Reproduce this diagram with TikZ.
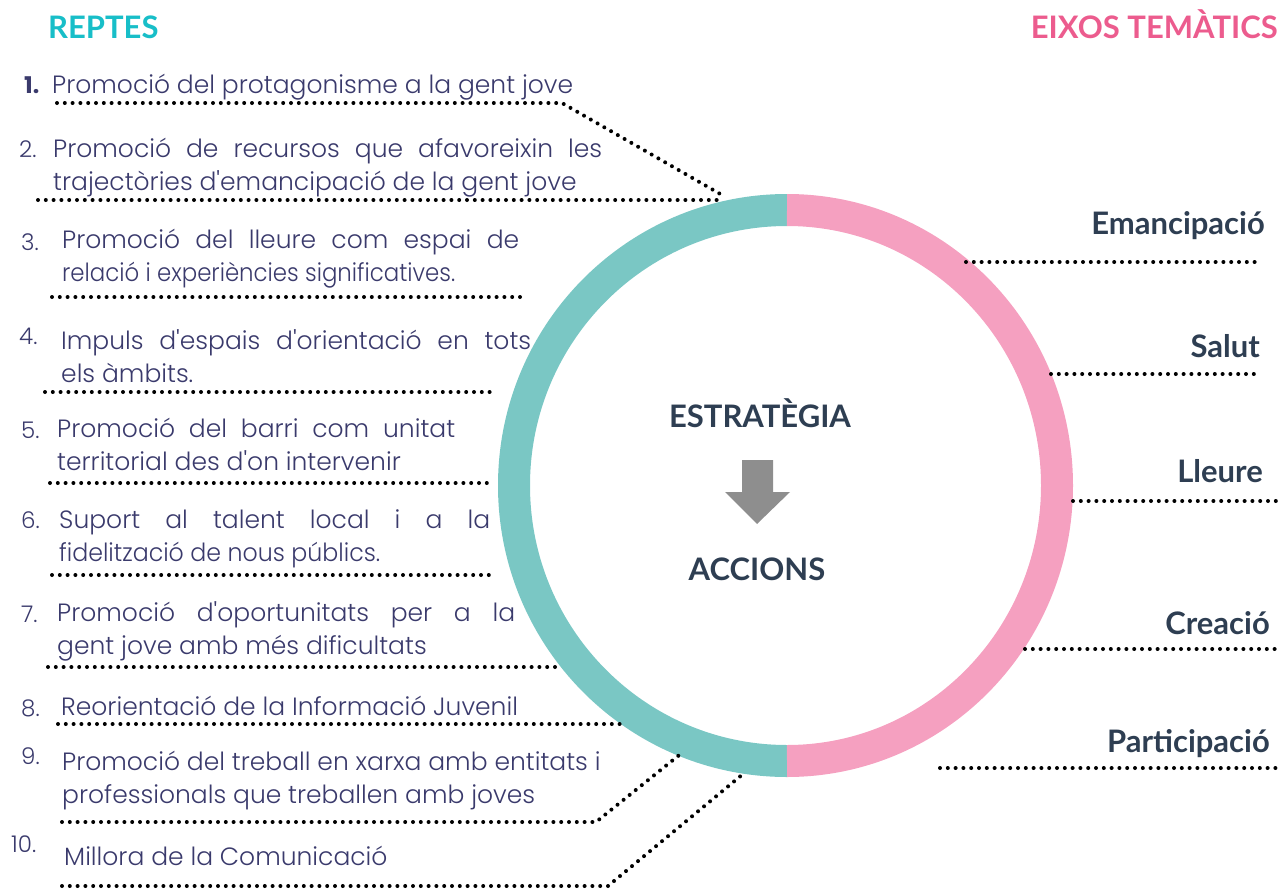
\documentclass[tikz,border=0pt]{standalone}
\usepackage{fontspec}
\setmainfont{Poppins}
\newfontfamily\itemfont{Poppins Light}
\newfontfamily\headfont{Lato}
\definecolor{itemcol}{RGB}{58,58,108}
\definecolor{labcol}{RGB}{46,62,82}
\definecolor{ringteal}{RGB}{122,199,196}
\definecolor{ringpink}{RGB}{245,160,192}
\definecolor{reptcol}{RGB}{24,190,200}
\definecolor{eixcol}{RGB}{236,92,142}
\definecolor{arrgray}{RGB}{142,142,142}
\tikzset{
  itemtxt/.style={anchor=base west, inner sep=0pt, font=\itemfont\fontsize{25}{33}\selectfont, text=itemcol},
  numtxt/.style={anchor=base west, inner sep=0pt, font=\itemfont\fontsize{23}{26}\selectfont, text=itemcol},
  labtxt/.style={anchor=base east, inner sep=0pt, font=\headfont\bfseries\fontsize{31}{36}\selectfont, text=labcol},
  headtxt/.style={inner sep=0pt, font=\headfont\bfseries\fontsize{31}{36}\selectfont},
  dotline/.style={line width=4pt, line cap=round, dash pattern=on 0pt off 7.8pt, black}
}
\newcommand{\twoline}[3]{\parbox[t]{#1}{\makebox[#1][s]{#2}\\#3}}
\newcommand{\narrow}[2]{\resizebox{#1}{\height}{#2}}
\begin{document}
\begin{tikzpicture}[x=1pt,y=-1pt]
\useasboundingbox (0,0) rectangle (1278,889);
% ring
\draw[ringteal, line width=32pt] (787,761) arc[start angle=90, end angle=270, x radius=273, y radius=275.5];
\draw[ringpink, line width=32pt] (787,210) arc[start angle=-90, end angle=90, x radius=270, y radius=275.5];
% headers
\node[headtxt, anchor=base west, text=reptcol] (reptes) at (48,38) {REPTES};
\node[headtxt, anchor=base east, text=eixcol] (eixos) at (1278,38) {EIXOS TEMÀTICS};
% centre
\node[labtxt, anchor=base] (estr) at (760,427) {ESTRATÈGIA};
\node[labtxt, anchor=base] (acc) at (757,580) {ACCIONS};
\fill[arrgray] (742,460) -- (773,460) -- (773,492) -- (790,492) -- (757,524) -- (725,492) -- (742,492) -- cycle;
% numbers
\node[numtxt, font=\fontsize{23}{26}\selectfont\bfseries] (n1) at (24,93) {1.};
\node[numtxt] (n2) at (19,157) {2.};
\node[numtxt] (n3) at (21,250) {3.};
\node[numtxt] (n4) at (19,344) {4.};
\node[numtxt] (n5) at (21,438) {5.};
\node[numtxt] (n6) at (21,528) {6.};
\node[numtxt] (n7) at (21,622) {7.};
\node[numtxt] (n8) at (21,716) {8.};
\node[numtxt] (n9) at (21,764) {9.};
\node[numtxt] (n10) at (11,852) {10.};
% items
\node[itemtxt] (r1) at (52,93) {Promoció del protagonisme a la gent jove};
\node[itemtxt] (r2) at (53,157) {\twoline{549pt}{Promoció de recursos que afavoreixin les}{trajectòries d'emancipació de la gent jove}};
\node[itemtxt] (r3) at (62,248) {\twoline{457pt}{Promoció del lleure com espai de}{\narrow{393pt}{relació i experiències significatives.}}};
\node[itemtxt] (r4) at (61,349) {\twoline{470pt}{Impuls d'espais d'orientació en tots}{els àmbits.}};
\node[itemtxt] (r5) at (57,437) {\twoline{398pt}{Promoció del barri com unitat}{territorial des d'on intervenir}};
\node[itemtxt] (r6) at (59,528) {\twoline{431pt}{Suport al talent local i a la}{\narrow{321pt}{fidelització de nous públics.}}};
\node[itemtxt] (r7) at (57,621) {\twoline{458pt}{Promoció d'oportunitats per a la}{gent jove amb més dificultats}};
\node[itemtxt] (r8) at (61,715) {Reorientació de la Informació Juvenil};
\node[itemtxt] (r9) at (62,770) {\parbox[t]{620pt}{Promoció del treball en xarxa amb entitats i\\professionals que treballen amb joves}};
\node[itemtxt] (r10) at (64,865) {Millora de la Comunicació};
% right labels
\node[labtxt] (e1) at (1265,234) {Emancipació};
\node[labtxt] (e2) at (1260,357) {Salut};
\node[labtxt] (e3) at (1263,482) {Lleure};
\node[labtxt] (e4) at (1270,634) {Creació};
\node[labtxt] (e5) at (1270,752) {Participació};
% connector points
\coordinate (a1) at (57,103);  \coordinate (b1) at (562,103); \coordinate (c1) at (722,195);
\coordinate (a2) at (38,200);  \coordinate (c2) at (722,200);
\coordinate (a3) at (52,297);  \coordinate (c3) at (520,297);
\coordinate (a4) at (45,392);  \coordinate (c4) at (490,392);
\coordinate (a5) at (50,483);  \coordinate (c5) at (487,483);
\coordinate (a6) at (52,575);  \coordinate (c6) at (490,575);
\coordinate (a7) at (48,667);  \coordinate (c7) at (560,667);
\coordinate (a8) at (58,724);  \coordinate (c8) at (622,724);
\coordinate (a9) at (62,822);  \coordinate (b9) at (596,822); \coordinate (c9) at (683,752);
\coordinate (a10) at (62,886); \coordinate (b10) at (608,886); \coordinate (c10) at (743,774);
\coordinate (p1) at (966,262); \coordinate (q1) at (1262,262);
\coordinate (p2) at (1051,374); \coordinate (q2) at (1258,374);
\coordinate (p3) at (1073,501); \coordinate (q3) at (1278,501);
\coordinate (p4) at (1025,649); \coordinate (q4) at (1278,649);
\coordinate (p5) at (940,768); \coordinate (q5) at (1278,768);
\draw[dotline] (a1) -- (b1) -- (c1);
\draw[dotline] (a2) -- (c2);
\draw[dotline] (a3) -- (c3);
\draw[dotline] (a4) -- (c4);
\draw[dotline] (a5) -- (c5);
\draw[dotline] (a6) -- (c6);
\draw[dotline] (a7) -- (c7);
\draw[dotline] (a8) -- (c8);
\draw[dotline] (a9) -- (b9) -- (c9);
\draw[dotline] (a10) -- (b10) -- (c10);
\draw[dotline] (p1) -- (q1);
\draw[dotline] (p2) -- (q2);
\draw[dotline] (p3) -- (q3);
\draw[dotline] (p4) -- (q4);
\draw[dotline] (p5) -- (q5);
\end{tikzpicture}
\end{document}
